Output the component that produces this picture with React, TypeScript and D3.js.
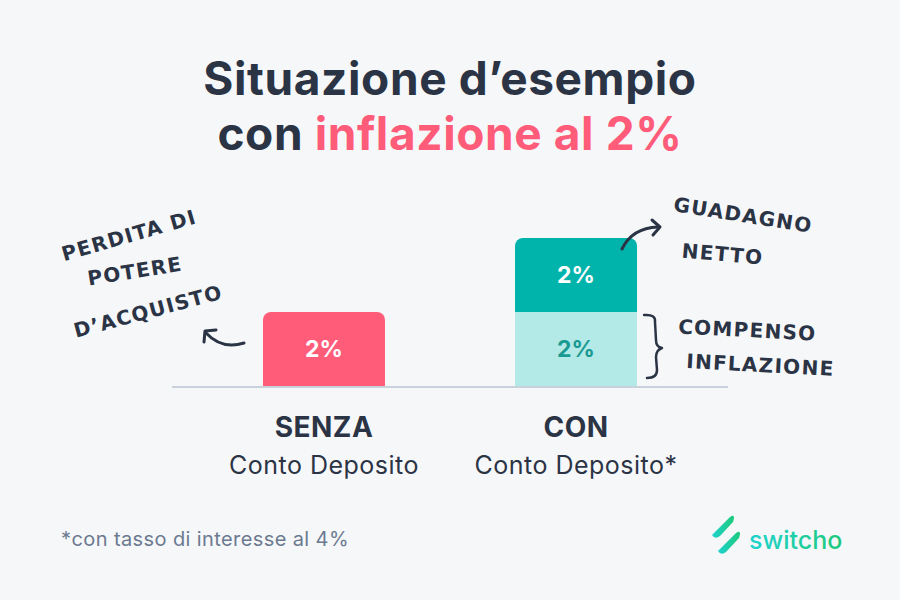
import React from 'react';
import * as d3 from 'd3';

// chart data
const categories = ['SENZA', 'CON'];
const subLabels = ['Conto Deposito', 'Conto Deposito*'];
const baseValues = [2, 2]; // perdita di potere d'acquisto / compenso inflazione
const gainValues = [0, 2]; // guadagno netto
const baseColors = ['#ff5c7a', '#b3e9e6'];
const baseTextColors = ['#ffffff', '#1a9a93'];
const gainColor = '#00b3ab';

const W = 900;
const H = 600;
const DARK = '#2b3445';
const HAND = "'DejaVu Sans', sans-serif";
const SANS = "Inter, 'Noto Sans', sans-serif";

const topRounded = (x: number, y: number, w: number, h: number, r: number) => {
  const p = d3.path();
  p.moveTo(x, y + h);
  p.lineTo(x, y + r);
  p.arcTo(x, y, x + r, y, r);
  p.lineTo(x + w - r, y);
  p.arcTo(x + w, y, x + w, y + r, r);
  p.lineTo(x + w, y + h);
  p.closePath();
  return p.toString();
};

const App: React.FC = () => {
  const x = d3.scaleBand<string>()
    .domain(categories)
    .range([172, 728])
    .paddingInner(0.516)
    .paddingOuter(0.361);
  const y = d3.scaleLinear().domain([0, 4]).range([386, 238]);
  const bw = x.bandwidth();

  return (
    <svg width={W} height={H} style={{position: 'absolute', left: 0, top: 0}}>
      <defs>
        <linearGradient id="logoGrad" x1="0" y1="0" x2="1" y2="0">
          <stop offset="0%" stopColor="#1fd3d0" />
          <stop offset="100%" stopColor="#1dc97a" />
        </linearGradient>
      </defs>
      <rect width={W} height={H} fill="#f6f7f9" />

      {/* title */}
      <text x={450} y={95} textAnchor="middle" fontFamily={SANS} fontWeight={700} fontSize={46}
            letterSpacing={0.6} fill={DARK}>
        Situazione d’esempio
      </text>
      <text x={450} y={150} textAnchor="middle" fontFamily={SANS} fontWeight={700} fontSize={46}
            letterSpacing={0.6} fill={DARK}>
        con <tspan fill="#ff5c7a">inflazione al 2%</tspan>
      </text>

      {/* bars */}
      {categories.map((c, i) => {
        const x0 = x(c)!;
        const baseTop = y(baseValues[i]);
        const gainTop = y(baseValues[i] + gainValues[i]);
        const hasGain = gainValues[i] > 0;
        return (
          <g key={c}>
            {hasGain ? (
              <>
                <rect x={x0} y={baseTop} width={bw} height={y(0) - baseTop} fill={baseColors[i]} />
                <path d={topRounded(x0, gainTop, bw, baseTop - gainTop, 8)} fill={gainColor} />
                <text x={x0 + bw / 2} y={(gainTop + baseTop) / 2 + 8} textAnchor="middle"
                      fontFamily={SANS} fontWeight={700} fontSize={23} fill="#ffffff">
                  {gainValues[i]}%
                </text>
              </>
            ) : (
              <path d={topRounded(x0, baseTop, bw, y(0) - baseTop, 8)} fill={baseColors[i]} />
            )}
            <text x={x0 + bw / 2} y={(baseTop + y(0)) / 2 + 8} textAnchor="middle"
                  fontFamily={SANS} fontWeight={700} fontSize={23} fill={baseTextColors[i]}>
              {baseValues[i]}%
            </text>
            <text x={x0 + bw / 2} y={437} textAnchor="middle" fontFamily={SANS} fontWeight={700}
                  fontSize={28} letterSpacing={0.5} fill={DARK}>{c}</text>
            <text x={x0 + bw / 2} y={474} textAnchor="middle" fontFamily={SANS} fontWeight={400}
                  fontSize={25} letterSpacing={0.5} fill={DARK}>{subLabels[i]}</text>
          </g>
        );
      })}

      {/* baseline */}
      <line x1={172} x2={728} y1={y(0) + 1} y2={y(0) + 1} stroke="#c9d1db" strokeWidth={2} />

      {/* left annotation */}
      <g fontFamily={HAND} fontSize={20} fill={DARK} fontWeight={700} letterSpacing={1.3}>
        <text transform="translate(131,242) rotate(-16)" textAnchor="middle">PERDITA DI</text>
        <text transform="translate(136,278) rotate(-9)" textAnchor="middle">POTERE</text>
        <text transform="translate(150,318) rotate(-15)" textAnchor="middle">D’ACQUISTO</text>
      </g>
      <path d="M244,343 Q222,350 206,333" fill="none" stroke={DARK} strokeWidth={3} strokeLinecap="round" />
      <path d="M204,342 L205,331 L216,330" fill="none" stroke={DARK} strokeWidth={3}
            strokeLinecap="round" strokeLinejoin="round" />

      {/* right annotations */}
      <g fontFamily={HAND} fontSize={20} fill={DARK} fontWeight={700} letterSpacing={1.3}>
        <text transform="translate(742,222) rotate(9)" textAnchor="middle">GUADAGNO</text>
        <text transform="translate(722,261) rotate(5)" textAnchor="middle">NETTO</text>
        <text transform="translate(747,337) rotate(3)" textAnchor="middle">COMPENSO</text>
        <text transform="translate(760,372) rotate(3)" textAnchor="middle">INFLAZIONE</text>
      </g>
      <path d="M622,249 Q632,228 658,227" fill="none" stroke={DARK} strokeWidth={3} strokeLinecap="round" />
      <path d="M652,220 L660,227 L653,235" fill="none" stroke={DARK} strokeWidth={3}
            strokeLinecap="round" strokeLinejoin="round" />
      <path d="M644,315 Q656,314 655,322 L656,340 Q656,347 662,348 Q656,350 656,357 L657,370 Q657,378 647,378"
            fill="none" stroke={DARK} strokeWidth={2.5} strokeLinecap="round" strokeLinejoin="round" />

      {/* footnote */}
      <text x={61} y={546} fontFamily={SANS} fontSize={20} letterSpacing={0.4} fill="#6b7a90">
        *con tasso di interesse al 4%
      </text>

      {/* logo */}
      <g fill="url(#logoGrad)">
        <path d="M712,535 L730,517 Q736,513 733,522 L720,536 Q715,540 712,535 Z" />
        <path d="M718,551 L736,533 Q742,529 739,538 L726,552 Q721,556 718,551 Z" />
      </g>
      <text x={749} y={549} fontFamily={SANS} fontSize={25} fontWeight={500} fill="url(#logoGrad)">switcho</text>
    </svg>
  );
};

export default App;
